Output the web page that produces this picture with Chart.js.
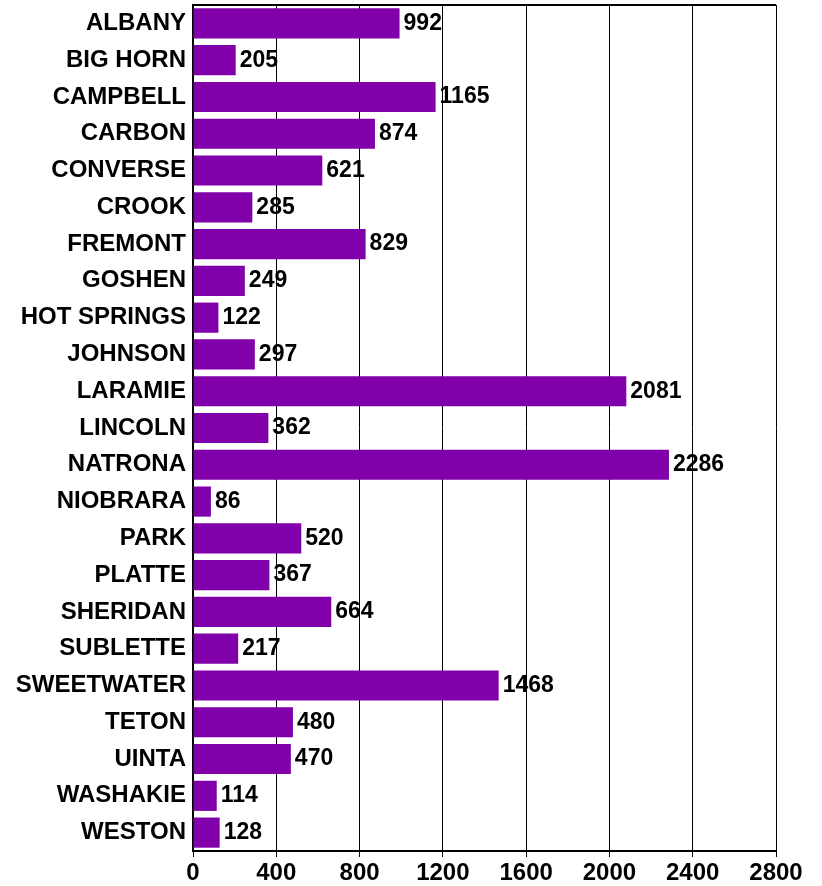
<!DOCTYPE html>
<html>
<head>
<meta charset="utf-8">
<script src="https://cdn.jsdelivr.net/npm/chart.js@4"></script>
<style>
html,body{margin:0;padding:0;background:#fff;}
canvas{display:block;}
</style>
</head>
<body>
<canvas id="c" width="822" height="886"></canvas>
<script>
const categories = ["ALBANY","BIG HORN","CAMPBELL","CARBON","CONVERSE","CROOK","FREMONT","GOSHEN","HOT SPRINGS","JOHNSON","LARAMIE","LINCOLN","NATRONA","NIOBRARA","PARK","PLATTE","SHERIDAN","SUBLETTE","SWEETWATER","TETON","UINTA","WASHAKIE","WESTON"];
const values = [992,205,1165,874,621,285,829,249,122,297,2081,362,2286,86,520,367,664,217,1468,480,470,114,128];
const xTicks = [0,400,800,1200,1600,2000,2400,2800];

const FONT = "'Liberation Sans', Arial, sans-serif";

const valueLabels = {
  id: 'valueLabels',
  afterDatasetsDraw(chart) {
    const ctx = chart.ctx;
    const meta = chart.getDatasetMeta(0);
    ctx.save();
    ctx.font = "bold 23px " + FONT;
    ctx.fillStyle = "#000";
    ctx.textAlign = "left";
    ctx.textBaseline = "middle";
    meta.data.forEach((bar, i) => {
      ctx.fillText(String(chart.data.datasets[0].data[i]), bar.x + 4, bar.y);
    });
    ctx.restore();
  }
};

const topLine = {
  id: 'topLine',
  afterDraw(chart) {
    const ctx = chart.ctx, a = chart.chartArea;
    ctx.save();
    ctx.strokeStyle = "#000";
    ctx.lineWidth = 2;
    ctx.beginPath();
    ctx.moveTo(a.left, a.top);
    ctx.lineTo(a.right, a.top);
    ctx.stroke();
    ctx.restore();
  }
};

new Chart(document.getElementById('c'), {
  type: 'bar',
  data: {
    labels: categories,
    datasets: [{
      data: values,
      backgroundColor: 'rgb(128,0,170)',
      borderWidth: 0,
      barPercentage: 0.82,
      categoryPercentage: 1.0
    }]
  },
  options: {
    indexAxis: 'y',
    responsive: false,
    animation: false,
    devicePixelRatio: 1,
    layout: { padding: { left: 0, right: 46, top: 5, bottom: 0 } },
    plugins: { legend: { display: false }, tooltip: { enabled: false } },
    scales: {
      x: {
        min: 0, max: 2800,
        afterBuildTicks(axis) { axis.ticks = xTicks.map(v => ({ value: v })); },
        afterFit(axis) { axis.height = 35; axis.paddingLeft = 0; axis.paddingRight = 0; },
        grid: { color: '#000', lineWidth: 1, tickLength: 6, drawTicks: true },
        border: { display: true, color: '#000', width: 2 },
        ticks: {
          color: '#000',
          font: { family: FONT, size: 24, weight: 'bold' },
          padding: 2,
          maxRotation: 0,
          autoSkip: false,
          callback: (v) => String(v)
        }
      },
      y: {
        afterFit(axis) { axis.width = 193; axis.paddingTop = 0; axis.paddingBottom = 0; },
        grid: { display: false, drawTicks: false },
        border: { display: true, color: '#000', width: 2 },
        ticks: {
          color: '#000',
          font: { family: FONT, size: 24, weight: 'bold' },
          padding: 7,
          autoSkip: false
        }
      }
    }
  },
  plugins: [valueLabels, topLine]
});
</script>
</body>
</html>
